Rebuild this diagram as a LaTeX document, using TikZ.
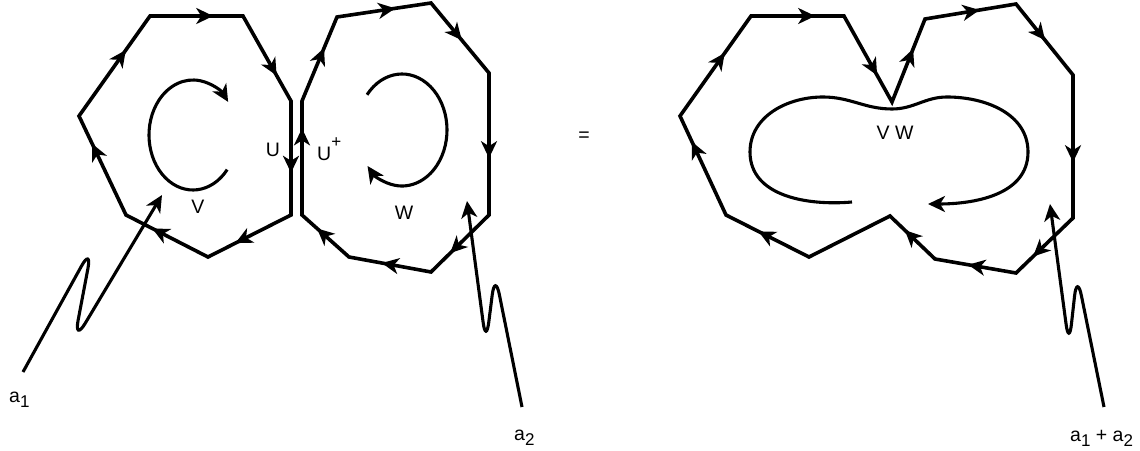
\documentclass[tikz,border=0pt]{standalone}
\usepackage{fontspec}
\setmainfont{Liberation Sans}
\usetikzlibrary{arrows.meta,decorations.markings}
\newcommand{\figfont}{\fontsize{19.5}{22}\selectfont}
\newcommand{\subdig}[1]{\raisebox{-5pt}{\fontsize{17}{17}\selectfont #1}}
\tikzset{
  >={Stealth[length=17pt,width=16pt,inset=5pt]},
  cellline/.style={line width=3.6pt,line join=miter},
  loopline/.style={line width=3.1pt},
  tailline/.style={line width=3.1pt,rounded corners=22pt,->},
  midtip/.style={postaction={decorate},decoration={markings,mark=at position #1 with {\arrow{>}}}},
  celllabel/.style={font=\figfont,inner sep=0pt}
}
\begin{document}
\begin{tikzpicture}[x=1pt,y=1pt]
  \useasboundingbox (0,0) rectangle (1140,450);
  % cell V
  \coordinate (v1) at (150,434); \coordinate (v2) at (243,434);
  \coordinate (v3) at (291,349); \coordinate (v4) at (291,235);
  \coordinate (v5) at (208,193); \coordinate (v6) at (126,235);
  \coordinate (v7) at (79,334);
  % cell W
  \coordinate (w1) at (302,349); \coordinate (w2) at (337,433);
  \coordinate (w3) at (431,447); \coordinate (w4) at (489,377);
  \coordinate (w5) at (489,235); \coordinate (w6) at (431,178);
  \coordinate (w7) at (349,193); \coordinate (w8) at (302,235);
  % merged cell VW
  \coordinate (m1) at (680,334);  \coordinate (m2) at (751,434);
  \coordinate (m3) at (844,434);  \coordinate (m4) at (892,348);
  \coordinate (m5) at (925,431);  \coordinate (m6) at (1016,446);
  \coordinate (m7) at (1073,375); \coordinate (m8) at (1073,232);
  \coordinate (m9) at (1016,177); \coordinate (m10) at (935,191);
  \coordinate (m11) at (890,234); \coordinate (m12) at (809,193);
  \coordinate (m13) at (726,235);
  \draw[cellline] (v1) -- (v2) -- (v3) -- (v4) -- (v5) -- (v6) -- (v7) -- cycle;
  \draw[cellline] (w1) -- (w2) -- (w3) -- (w4) -- (w5) -- (w6) -- (w7) -- (w8) -- cycle;
  \draw[cellline] (m1) -- (m2) -- (m3) -- (m4) -- (m5) -- (m6) -- (m7) -- (m8) -- (m9)
    -- (m10) -- (m11) -- (m12) -- (m13) -- cycle;
  \foreach \a/\b/\p in {v7/v1/0.66,v1/v2/0.68,v2/v3/0.70,v3/v4/0.63,v4/v5/0.67,v5/v6/0.68,v6/v7/0.72,
      w8/w1/0.76,w1/w2/0.63,w2/w3/0.62,w3/w4/0.53,w4/w5/0.60,w5/w6/0.67,w6/w7/0.60,w7/w8/0.68,
      m1/m2/0.63,m2/m3/0.69,m3/m4/0.69,m4/m5/0.64,m5/m6/0.60,m6/m7/0.51,m7/m8/0.61,m8/m9/0.70,
      m9/m10/0.59,m10/m11/0.67,m12/m13/0.61,m13/m1/0.74}
    \path[cellline,midtip=\p] (\a) -- (\b);
  % circulations
  \coordinate (vc) at (193,315);
  \coordinate (wc) at (402,320);
  \draw[loopline,->] ([shift={(-39:44 and 55)}]vc) arc[start angle=-39,end angle=-323,x radius=44,y radius=55];
  \draw[loopline,->] ([shift={(141:45 and 56)}]wc) arc[start angle=141,end angle=-140,x radius=45,y radius=56];
  \coordinate (vwS) at (852,248);  \coordinate (vwL) at (750,298);
  \coordinate (vwT1) at (823,353); \coordinate (vwN) at (892,341);
  \coordinate (vwT2) at (947,353); \coordinate (vwR) at (1028,298);
  \coordinate (vwE) at (928,246);
  \draw[loopline,->] (vwS) to[out=185,in=270] (vwL) to[out=90,in=180] (vwT1)
    to[out=0,in=180] (vwN) to[out=0,in=180] (vwT2) to[out=0,in=90] (vwR) to[out=270,in=0] (vwE);
  % wiggly legs
  \coordinate (a1foot) at (23,78);    \coordinate (a1crest) at (92,203);
  \coordinate (a1trough) at (74,108); \coordinate (a1head) at (162,255);
  \coordinate (a2foot) at (522,43);   \coordinate (a2crest) at (495,177);
  \coordinate (a2trough) at (486,106); \coordinate (a2head) at (467,249);
  \coordinate (sfoot) at (1104,43);   \coordinate (screst) at (1077,176);
  \coordinate (strough) at (1069,104); \coordinate (shead) at (1050,246);
  \draw[tailline] (a1foot) -- (a1crest) -- (a1trough) -- (a1head);
  \draw[tailline] (a2foot) -- (a2crest) -- (a2trough) -- (a2head);
  \draw[tailline] (sfoot) -- (screst) -- (strough) -- (shead);
  % labels
  \node[celllabel,anchor=base] (labV) at (198,236) {V};
  \node[celllabel,anchor=base] (labU) at (273,293) {U};
  \node[celllabel,anchor=base west] (labUp) at (317,289) {U\raisebox{13pt}{\fontsize{17}{17}\selectfont +}};
  \node[celllabel,anchor=base] (labW) at (404,230) {W};
  \node[celllabel] (labEq) at (584,313) {=};
  \node[celllabel,anchor=base] (labVW) at (895,310) {V W};
  \node[celllabel,anchor=base west] (laba1) at (9,48) {a\subdig{1}};
  \node[celllabel,anchor=base west] (laba2) at (514,10) {a\subdig{2}};
  \node[celllabel,anchor=base west] (labsum) at (1070,9) {a\subdig{1} + a\subdig{2}};
\end{tikzpicture}
\end{document}
